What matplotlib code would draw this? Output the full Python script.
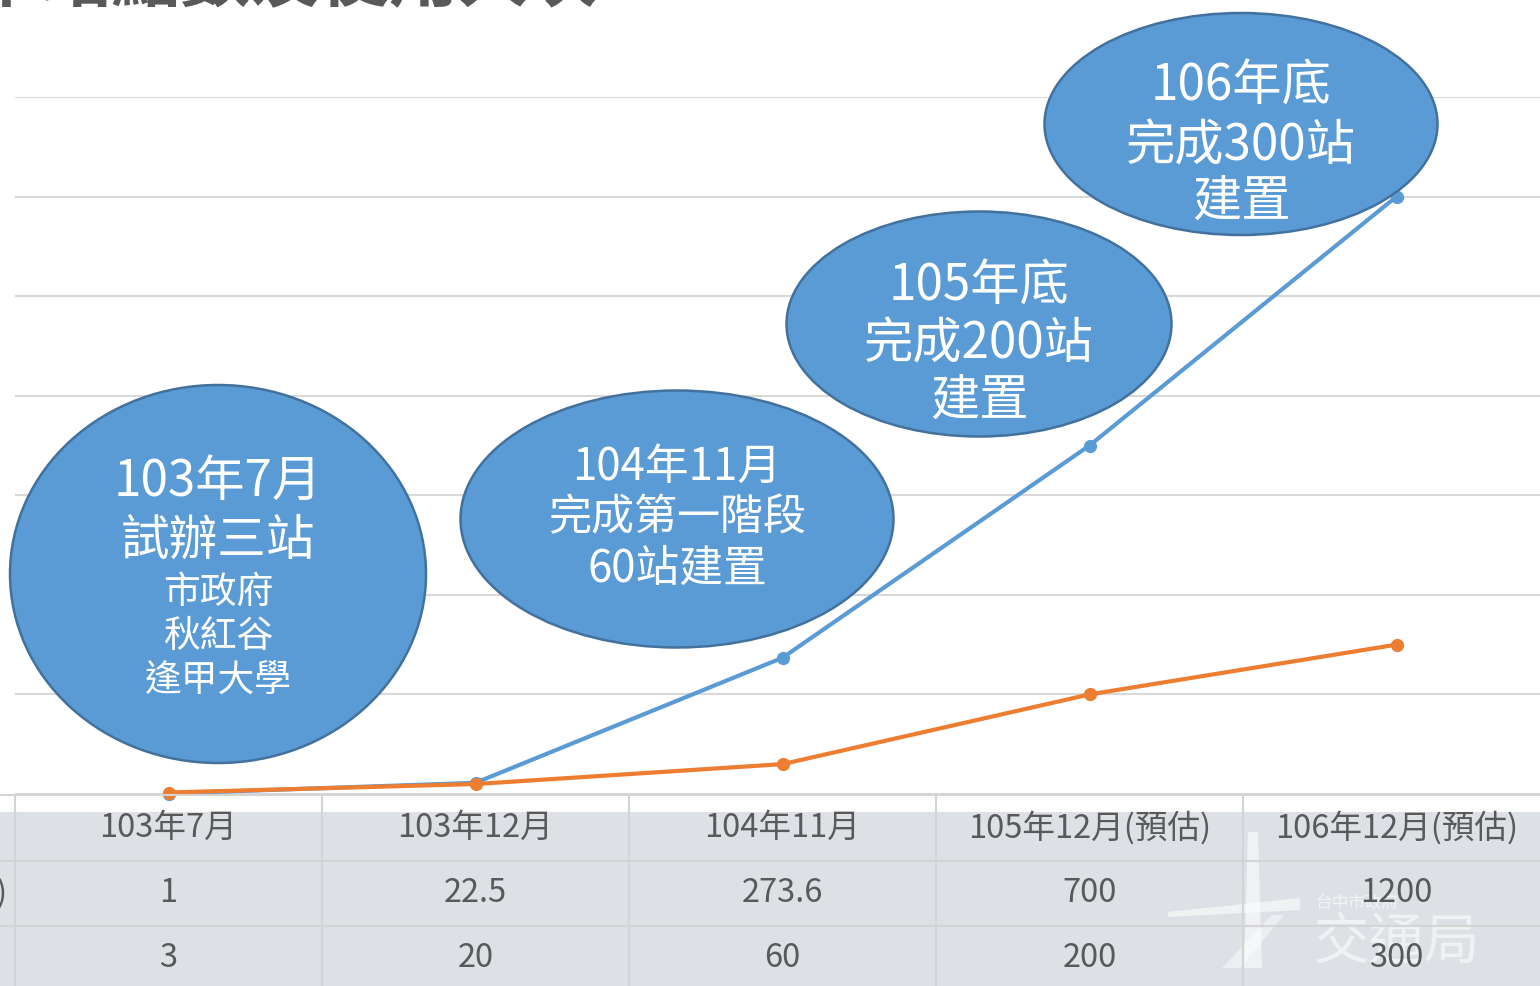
import numpy as np
import matplotlib
matplotlib.use("Agg")
from matplotlib import pyplot as plt
from matplotlib.patches import Ellipse, Rectangle, Polygon

plt.rcParams['font.family'] = ['Noto Sans CJK TC', 'DejaVu Sans']

# Data
periods = ['103年7月', '103年12月', '104年11月', '105年12月(預估)', '106年12月(預估)']
riders = [1, 22.5, 273.6, 700, 1200]      # 使用人次(萬)
stations = [3, 20, 60, 200, 300]          # 站點數
rider_labels = ['1', '22.5', '273.6', '700', '1200']
station_labels = ['3', '20', '60', '200', '300']
row_names = ['使用人次(萬)', '站點數']
y_ticks = [0, 200, 400, 600, 800, 1000, 1200, 1400]

# Milestone bubbles: text lines, font sizes, ellipse (cx, cy, w, h) in pixels
bubbles = [
    (['103年7月', '試辦三站', '市政府', '秋紅谷', '逢甲大學'],
     [35.5, 35, 26.5, 26.5, 26.5], [482, 541, 592, 636, 681], (218, 574, 416, 378)),
    (['104年11月', '完成第一階段', '60站建置'],
     [31.5, 31, 31.5], [467, 518, 569], (677, 519, 433, 257)),
    (['105年底', '完成200站', '建置'],
     [35.5, 35.5, 35.5], [287, 344, 401], (979, 324, 385, 225)),
    (['106年底', '完成300站', '建置'],
     [35.5, 35.5, 35.5], [87, 146, 202], (1241, 124, 393, 222)),
]

W, H = 1540, 986
BLUE = '#5B9BD5'
ORANGE = '#ED7D31'
GRID = '#D9D9D9'
TXT = '#595959'

fig = plt.figure(figsize=(W / 100, H / 100), dpi=100)
fig.patch.set_facecolor('white')

x_left, x_right = 15, 1550
y_top, y_base = 97, 794

# chart axes
ax = fig.add_axes([x_left / W, (H - y_base) / H, (x_right - x_left) / W, (y_base - y_top) / H])
ax.set_xlim(-0.5, len(periods) - 0.5)
ax.set_ylim(0, 1400)
ax.set_facecolor('none')
for s in ax.spines.values():
    s.set_visible(False)
ax.set_xticks([])
ax.set_yticks(y_ticks)
ax.tick_params(left=False, labelleft=False)
ax.grid(axis='y', color=GRID, lw=1.5)
ax.set_axisbelow(True)

x = np.arange(len(periods))
ax.plot(x, riders, color=BLUE, lw=3, marker='o', ms=8.5, clip_on=False, zorder=3)
ax.plot(x, stations, color=ORANGE, lw=3, marker='o', ms=8.5, clip_on=False, zorder=4)

# table background and watermark (pixel coordinates)
bg = fig.add_axes([0, 0, 1, (H - y_base) / H])
bg.set_xlim(0, W)
bg.set_ylim(H, y_base)
bg.axis('off')
bg.add_patch(Rectangle((0, 812), W, H - 812, color='#DDE1E6', lw=0))
bg.add_patch(Polygon([(1248, 832), (1258, 832), (1262, 968), (1244, 968)],
                     color='white', alpha=0.55, lw=0))
bg.add_patch(Polygon([(1168, 912), (1300, 898), (1300, 910), (1168, 917)],
                     color='white', alpha=0.55, lw=0))
bg.add_patch(Polygon([(1222, 968), (1272, 915), (1284, 915), (1240, 968)],
                     color='white', alpha=0.45, lw=0))
bg.text(1315, 903, '台中市政府', fontsize=12, color='white', alpha=0.6, va='center')
bg.text(1313, 943, '交通局', fontsize=40, color='white', alpha=0.55, va='center')

# data table below the chart
tab = fig.add_axes([x_left / W, 0, (x_right - x_left) / W, (H - y_base) / H])
tab.set_xlim(-0.5, len(periods) - 0.5)
tab.set_ylim(H - y_base, 0)
tab.axis('off')
tab.patch.set_alpha(0)
for r in [1, 67, 132]:
    tab.plot([-3, 6], [r, r], color='#D4D4D4', lw=1.5, clip_on=False, zorder=1)
for b in np.arange(-0.5, len(periods), 1.0):
    tab.plot([b, b], [1, 200], color='#D4D4D4', lw=1.5, clip_on=False, zorder=1)
for i in range(len(periods)):
    tab.text(i, 34, periods[i], ha='center', va='center', fontsize=23.5, color=TXT)
    tab.text(i, 99, rider_labels[i], ha='center', va='center', fontsize=23.5, color=TXT)
    tab.text(i, 164, station_labels[i], ha='center', va='center', fontsize=23.5, color=TXT)
tab.text(-0.525, 99, row_names[0], ha='right', va='center', fontsize=23.5, color=TXT, clip_on=False)
tab.text(-0.6, 164, row_names[1], ha='right', va='center', fontsize=23.5, color=TXT, clip_on=False)

# overlay in pixel coordinates for bubbles and title
ov = fig.add_axes([0, 0, 1, 1])
ov.set_xlim(0, W)
ov.set_ylim(H, 0)
ov.axis('off')
ov.patch.set_alpha(0)

for lines, sizes, ys, (cx, cy, w, h) in bubbles:
    ov.add_patch(Ellipse((cx, cy), w, h, facecolor=BLUE, edgecolor='#41719C', lw=1.8, zorder=5))
    for t, fs, yy in zip(lines, sizes, ys):
        ov.text(cx, yy, t, ha='center', va='center', fontsize=fs, color='white', zorder=6)

ov.text(598, 1, '公共自行車站點數及使用人次', ha='right', va='baseline',
        fontsize=50, fontweight='bold', color=TXT)

fig.savefig('out.png', dpi=100)
